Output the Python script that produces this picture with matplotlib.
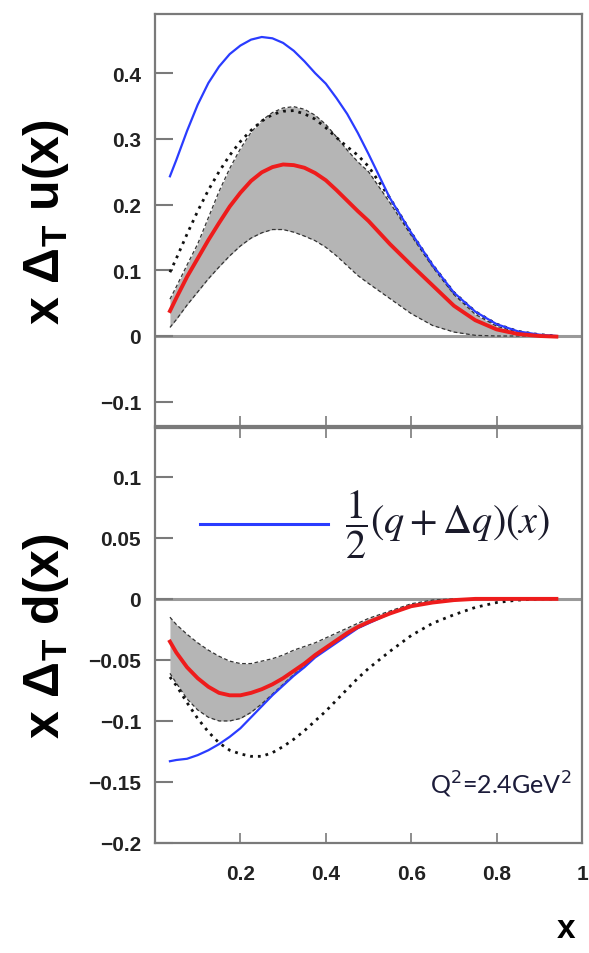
import matplotlib
matplotlib.use("Agg")
import matplotlib.pyplot as plt

plt.rcParams['mathtext.fontset'] = 'custom'
plt.rcParams['mathtext.rm'] = 'Liberation Sans:bold'
plt.rcParams['mathtext.bf'] = 'Liberation Sans:bold'
plt.rcParams['mathtext.it'] = 'Liberation Sans:bold'

# ---------------- data ----------------
x = [0.035, 0.05, 0.075, 0.10, 0.125, 0.15, 0.175, 0.20, 0.225, 0.25,
     0.275, 0.30, 0.325, 0.35, 0.375, 0.40, 0.425, 0.45, 0.475, 0.50,
     0.55, 0.60, 0.65, 0.70, 0.75, 0.80, 0.85, 0.90, 0.94]

u_fit = [0.038, 0.058, 0.090, 0.118, 0.146, 0.172, 0.197, 0.218, 0.236, 0.249,
         0.257, 0.261, 0.260, 0.256, 0.248, 0.237, 0.222, 0.206, 0.190, 0.175,
         0.140, 0.108, 0.077, 0.046, 0.024, 0.010, 0.003, 0.000, -0.001]
u_band_hi = [0.056, 0.075, 0.108, 0.140, 0.180, 0.220, 0.255, 0.285, 0.310, 0.328,
             0.340, 0.347, 0.349, 0.345, 0.336, 0.322, 0.303, 0.283, 0.265, 0.250,
             0.203, 0.153, 0.105, 0.063, 0.033, 0.015, 0.005, 0.001, 0.000]
u_band_lo = [0.013, 0.025, 0.047, 0.067, 0.087, 0.105, 0.122, 0.137, 0.149, 0.157,
             0.162, 0.162, 0.158, 0.152, 0.145, 0.135, 0.122, 0.107, 0.092, 0.080,
             0.057, 0.034, 0.016, 0.006, 0.001, 0.000, 0.000, 0.000, 0.000]
u_soffer = [0.243, 0.268, 0.312, 0.352, 0.385, 0.410, 0.429, 0.442, 0.451, 0.455,
            0.453, 0.446, 0.434, 0.418, 0.400, 0.384, 0.362, 0.338, 0.309, 0.277,
            0.210, 0.157, 0.108, 0.066, 0.037, 0.018, 0.007, 0.002, 0.000]
u_model = [0.097, 0.118, 0.155, 0.190, 0.222, 0.250, 0.275, 0.296, 0.313, 0.327,
           0.337, 0.342, 0.343, 0.338, 0.330, 0.317, 0.302, 0.288, 0.275, 0.258,
           0.210, 0.157, 0.108, 0.066, 0.037, 0.018, 0.007, 0.002, 0.000]

d_fit = [-0.035, -0.044, -0.056, -0.065, -0.072, -0.077, -0.079, -0.079, -0.077, -0.074,
         -0.070, -0.065, -0.059, -0.053, -0.046, -0.040, -0.034, -0.028, -0.023, -0.019,
         -0.012, -0.006, -0.003, -0.001, 0.0, 0.0, 0.0, 0.0, 0.0]
d_band_hi = [-0.015, -0.021, -0.029, -0.036, -0.042, -0.047, -0.051, -0.053, -0.053, -0.051,
             -0.049, -0.046, -0.042, -0.039, -0.036, -0.032, -0.028, -0.024, -0.020, -0.016,
             -0.010, -0.004, -0.001, 0.0, 0.0, 0.0, 0.0, 0.0, 0.0]
d_band_lo = [-0.061, -0.069, -0.082, -0.091, -0.097, -0.100, -0.100, -0.098, -0.093, -0.086,
             -0.078, -0.070, -0.062, -0.055, -0.047, -0.041, -0.035, -0.029, -0.024, -0.020,
             -0.012, -0.006, -0.003, -0.001, 0.0, 0.0, 0.0, 0.0, 0.0]
d_soffer = [-0.133, -0.132, -0.131, -0.128, -0.124, -0.119, -0.113, -0.106, -0.097, -0.088,
            -0.079, -0.071, -0.063, -0.056, -0.048, -0.042, -0.036, -0.030, -0.024, -0.020,
            -0.012, -0.006, -0.003, -0.001, 0.0, 0.0, 0.0, 0.0, 0.0]
d_model = [-0.064, -0.071, -0.085, -0.098, -0.109, -0.118, -0.124, -0.127, -0.129, -0.129,
           -0.126, -0.121, -0.115, -0.108, -0.100, -0.092, -0.083, -0.074, -0.065, -0.057,
           -0.043, -0.030, -0.020, -0.013, -0.007, -0.003, -0.001, 0.0, 0.0]

x_ticks = [0.2, 0.4, 0.6, 0.8, 1.0]
x_ticklabels = ['0.2', '0.4', '0.6', '0.8', '1']
u_ticks = [-0.1, 0, 0.1, 0.2, 0.3, 0.4]
u_ticklabels = ['\u22120.1', '0', '0.1', '0.2', '0.3', '0.4']
d_ticks = [-0.2, -0.15, -0.1, -0.05, 0, 0.05, 0.1]
d_ticklabels = ['\u22120.2', '\u22120.15', '\u22120.1', '\u22120.05', '0', '0.05', '0.1']

# ---------------- figure ----------------
W, H = 589, 954
fig = plt.figure(figsize=(W / 100, H / 100), dpi=100)

def box(l, t, r, b):
    return [l / W, 1 - b / H, (r - l) / W, (b - t) / H]

ax1 = fig.add_axes(box(155, 15, 582, 427))
ax2 = fig.add_axes(box(155, 429, 582, 844))

frame_col = '#7a7a7a'
tick_font = dict(family='Liberation Sans', weight='bold', size=15)

def style(ax, ylim, yt, ytl, top_ticks):
    ax.set_xlim(0, 1)
    ax.set_ylim(*ylim)
    for s in ax.spines.values():
        s.set_color(frame_col)
        s.set_linewidth(1.6)
    ax.set_yticks(yt)
    ax.set_yticklabels(ytl, fontdict=tick_font)
    ax.set_xticks(x_ticks)
    ax.tick_params(axis='y', direction='in', length=13, width=1.5, color=frame_col,
                   pad=10, labelcolor='#222222')
    ax.tick_params(axis='x', direction='in', length=7, width=1.2, color=frame_col,
                   top=top_ticks, pad=15, labelcolor='#222222')
    ax.axhline(0, color='#9a9a9a', lw=2.2, zorder=1)

style(ax1, (-0.137, 0.49), u_ticks, u_ticklabels, False)
style(ax2, (-0.2, 0.14), d_ticks, d_ticklabels, True)
ax1.set_xticklabels([])
ax2.set_xticklabels(x_ticklabels, fontdict=tick_font)

def draw(ax, fit, hi, lo, soffer, model):
    ax.fill_between(x, lo, hi, color='#b5b5b5', lw=0, zorder=2)
    ax.plot(x, hi, color='#333333', lw=0.9, ls=(0, (3, 2)), zorder=3)
    ax.plot(x, lo, color='#333333', lw=0.9, ls=(0, (3, 2)), zorder=3)
    ax.plot(x, model, color='#111111', lw=2.0, ls=(0, (1, 1.8)), zorder=4)
    ax.plot(x, soffer, color='#2a3cff', lw=1.6, zorder=5, solid_joinstyle='round')
    ax.plot(x, fit, color='#ee1c1c', lw=2.8, zorder=6, solid_joinstyle='round')

draw(ax1, u_fit, u_band_hi, u_band_lo, u_soffer, u_model)
draw(ax2, d_fit, d_band_hi, d_band_lo, d_soffer, d_model)

ylab_kw = dict(family='Liberation Sans', weight='bold', size=36, rotation=90,
               ha='center', va='center', math_fontfamily='custom')
fig.text(46 / W, 1 - 222 / H, r'x $\Delta_\mathbf{T}$ u(x)', **ylab_kw)
fig.text(46 / W, 1 - 636 / H, r'x $\Delta_\mathbf{T}$ d(x)', **ylab_kw)
fig.text(566 / W, 1 - 930 / H, 'x', family='Liberation Sans', weight='bold', size=24,
         ha='center', va='center')

# legend
ax2.plot([0.105, 0.405], [0.0615, 0.0615], color='#2a3cff', lw=2.2, zorder=5)
ax2.text(0.445, 0.0615, r'$\dfrac{1}{2}\left(q+\Delta q\right)(x)$', fontsize=29,
         math_fontfamily='stix', ha='left', va='center', color='#1a1a2a')

ax2.text(0.644, -0.1515, 'Q$^2$=2.4GeV$^2$', family='Lato',
         fontsize=18, math_fontfamily='dejavusans', ha='left', va='center', color='#1c1c3a')

fig.savefig('out.png', dpi=100)
